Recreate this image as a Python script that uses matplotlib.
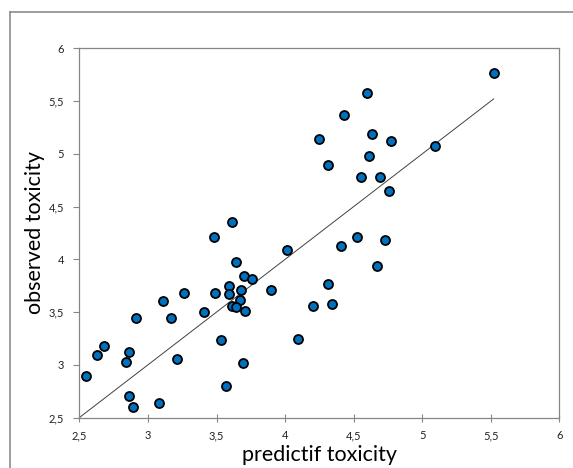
import matplotlib
matplotlib.use('Agg')
import matplotlib.pyplot as plt
from matplotlib.lines import Line2D

plt.rcParams['font.family'] = ['Lato', 'DejaVu Sans']

# predicted vs observed toxicity
predicted = [5.52, 4.60, 4.43, 4.25, 4.63, 4.77, 5.09, 4.61, 4.31, 4.55,
             4.69, 4.76, 3.61, 3.48, 4.52, 4.73, 4.41, 4.01, 3.64, 4.67,
             3.70, 3.76, 4.31, 3.59, 3.90, 3.68, 3.26, 3.49, 3.59, 3.11,
             3.67, 4.34, 4.20, 3.61, 3.64, 3.71, 3.41, 3.17, 2.91, 3.53,
             4.09, 2.68, 2.63, 2.86, 2.84, 3.21, 3.69, 2.55, 3.57, 2.86,
             3.08, 2.89]
observed = [5.77, 5.58, 5.37, 5.14, 5.19, 5.12, 5.07, 4.98, 4.89, 4.78,
            4.78, 4.65, 4.35, 4.21, 4.21, 4.18, 4.13, 4.09, 3.97, 3.94,
            3.84, 3.81, 3.77, 3.75, 3.71, 3.71, 3.68, 3.68, 3.67, 3.60,
            3.61, 3.58, 3.56, 3.56, 3.55, 3.51, 3.50, 3.44, 3.44, 3.23,
            3.24, 3.18, 3.09, 3.12, 3.03, 3.05, 3.02, 2.89, 2.80, 2.70,
            2.64, 2.60]
fit_line = [2.5, 5.52]

ticks = [2.5, 3, 3.5, 4, 4.5, 5, 5.5, 6]
tick_labels = ['2,5', '3', '3,5', '4', '4,5', '5', '5,5', '6']

fig = plt.figure(figsize=(5.73, 4.68), dpi=100)
ax = fig.add_axes([0.1387, 0.1079, 0.8377, 0.7889])

# outer chart-area frame (only left and top are visible in the crop)
fig.add_artist(Line2D([0.0166, 0.0166], [0, 0.9744], transform=fig.transFigure,
                      color='#8c8c8c', lw=1.2))
fig.add_artist(Line2D([0.0166, 1.0], [0.9744, 0.9744], transform=fig.transFigure,
                      color='#8c8c8c', lw=1.2))

ax.plot(fit_line, fit_line, color='#404040', lw=0.7, zorder=2)
ax.scatter(predicted, observed, s=42, c='#0070c0', edgecolors='black',
           linewidths=1.3, zorder=3)

ax.set_xlim(2.5, 6)
ax.set_ylim(2.5, 6)
ax.set_xticks(ticks)
ax.set_xticklabels(tick_labels)
ax.set_yticks(ticks)
ax.set_yticklabels(tick_labels)

for s in ax.spines.values():
    s.set_color('#868686')
    s.set_linewidth(0.9)

ax.tick_params(axis='x', direction='inout', length=6, width=0.8, color='#868686',
               labelsize=8, pad=6, labelcolor='#222222')
ax.tick_params(axis='y', direction='out', length=4, width=0.8, color='#868686',
               labelsize=8, pad=7, labelcolor='#222222')

ax.set_xlabel('predictif toxicity', fontsize=15.5, labelpad=3)
ax.set_ylabel('observed toxicity', fontsize=15.5, labelpad=3)

fig.savefig('out.png', dpi=100)
